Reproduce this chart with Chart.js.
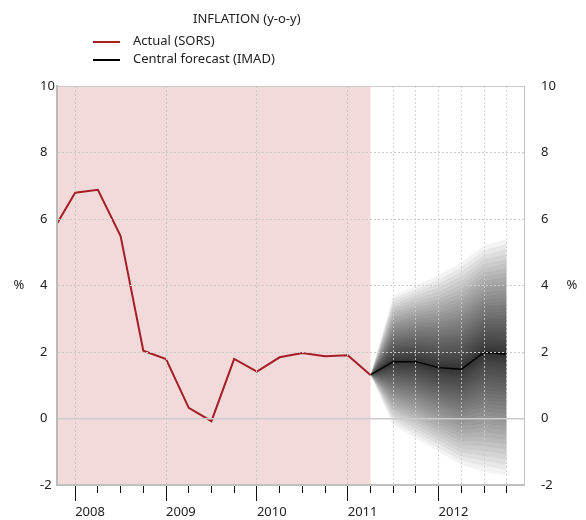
<!DOCTYPE html>
<html>
<head>
<meta charset="utf-8">
<script src="https://cdn.jsdelivr.net/npm/chart.js@4/dist/chart.umd.min.js"></script>
<style>
  body { margin: 0; background: #fff; font-family: "Noto Sans", sans-serif; color: #222; }
  .wrap { position: relative; width: 586px; height: 520px; }
  .title { position: absolute; left: 193px; top: 9px; font-size: 13px; line-height: 18px; }
  .legend { position: absolute; left: 93px; top: 31px; font-size: 13px; }
  .legend div { height: 18px; line-height: 18px; white-space: nowrap; }
  .swatch { display: inline-block; width: 27px; height: 2px; vertical-align: middle; margin-right: 13px; }
</style>
</head>
<body>
<div class="wrap">
  <canvas id="myChart"></canvas>
  <div class="title">INFLATION (y-o-y)</div>
  <div class="legend">
    <div><span class="swatch" style="background:#a51d25"></span>Actual (SORS)</div>
    <div><span class="swatch" style="background:#000"></span>Central forecast (IMAD)</div>
  </div>
</div>
<script>
// Actual inflation, quarterly (x in years)

const actualQuarters = [2007.75, 2008, 2008.25, 2008.5, 2008.75, 2009, 2009.25, 2009.5, 2009.75,
  2010, 2010.25, 2010.5, 2010.75, 2011, 2011.25];
const actual = [5.63, 6.79, 6.88, 5.49, 2.04, 1.79, 0.32, -0.08, 1.79,
  1.41, 1.84, 1.97, 1.87, 1.90, 1.31];

// Forecast with fan bounds (where the shading fades out)

const forecastQuarters = [2011.25, 2011.5, 2011.75, 2012, 2012.25, 2012.5, 2012.75];
const central = [1.31, 1.71, 1.71, 1.53, 1.48, 1.99, 1.93];
const fanUpper = [1.31, 3.7, 4.0, 4.3, 4.7, 5.2, 5.4];
const fanLower = [1.31, -0.2, -0.6, -1.0, -1.4, -1.6, -1.7];

// Axis ticks

const xTicks = [2008, 2008.25, 2008.5, 2008.75, 2009, 2009.25, 2009.5, 2009.75,
  2010, 2010.25, 2010.5, 2010.75, 2011, 2011.25, 2011.5, 2011.75,
  2012, 2012.25, 2012.5, 2012.75];
const yearTicks = [2008, 2009, 2010, 2011, 2012];
const yTicks = [-2, 0, 2, 4, 6, 8, 10];
const shadeEnd = 2011.25;
const unitLabelAt = 4;

// Build the fan: many thin nested bands give a smooth gradient

const BANDS = 40;
let fanSets = [];
for (let k = BANDS; k >= 1; k--) {
  let q = Math.pow(k / BANDS, 1.8);
  fanSets.push({
    data: forecastQuarters.map((x, i) => ({ x: x, y: central[i] + (fanUpper[i] - central[i]) * q })),
    fill: "+1",
    backgroundColor: "rgba(0,0,0,0.046)",
    borderWidth: 0,
    pointRadius: 0,
  });
  fanSets.push({
    data: forecastQuarters.map((x, i) => ({ x: x, y: central[i] - (central[i] - fanLower[i]) * q })),
    fill: false,
    borderWidth: 0,
    pointRadius: 0,
  });
}

// Pink history background and the "%" unit labels

const backdrop = {
  id: "backdrop",
  beforeDraw(chart) {
    const { ctx, chartArea: a, scales: { x } } = chart;
    ctx.save();
    ctx.fillStyle = "#f2dadb";
    ctx.fillRect(a.left, a.top, x.getPixelForValue(shadeEnd) - a.left, a.bottom - a.top);
    ctx.restore();
  },
  afterDraw(chart) {
    const { ctx, scales: { y } } = chart;
    let py = y.getPixelForValue(unitLabelAt);
    ctx.save();
    ctx.font = '13px "Noto Sans"';
    ctx.fillStyle = "#222";
    ctx.textAlign = "center";
    ctx.textBaseline = "middle";
    ctx.fillText("%", 19, py);
    ctx.fillText("%", 572, py);
    ctx.restore();
  },
};

const tickFont = { family: "Noto Sans", size: 13 };

new Chart("myChart", {
  type: "line",
  data: {
    datasets: [
      {
        data: actualQuarters.map((x, i) => ({ x: x, y: actual[i] })),
        borderColor: "#a51d25",
        borderWidth: 2,
        pointRadius: 0,
        fill: false,
      },
      {
        data: forecastQuarters.map((x, i) => ({ x: x, y: central[i] })),
        borderColor: "#000",
        borderWidth: 1.5,
        pointRadius: 0,
        fill: false,
      },
      ...fanSets,
    ],
  },
  options: {
    responsive: true,
    maintainAspectRatio: false,
    animation: false,
    layout: { padding: { left: 40, top: 86, right: 0, bottom: 0 } },
    plugins: { legend: { display: false }, tooltip: { enabled: false } },
    scales: {
      x: {
        type: "linear",
        min: 2007.8,
        max: 2012.94,
        afterBuildTicks: (s) => { s.ticks = xTicks.map((v) => ({ value: v })); },
        afterFit: (s) => { s.height = 35; },
        ticks: {
          callback: (v) => (yearTicks.includes(v) ? String(v) : ""),
          align: "start",
          padding: 3,
          maxRotation: 0,
          autoSkip: false,
          color: "#222",
          font: tickFont,
        },
        grid: {
          z: 1,
          color: (c) => {
            let v = c.tick.value;
            if (v > shadeEnd) return "rgba(205,205,205,0.8)";
            if (Number.isInteger(v)) return "#c8c8c8";
            return "rgba(0,0,0,0)";
          },
          tickColor: "#111",
          tickLength: 16,
          tickWidth: 1,
          tickBorderDash: (c) => (c.tick && Number.isInteger(c.tick.value) ? [] : [7, 30]),
        },
        border: {
          z: 1,
          color: "#c0c0c0",
          width: 2,
          dash: (c) => (c.tick ? [2, 2] : []),
        },
      },
      y: {
        position: "left",
        min: -2,
        max: 10,
        afterBuildTicks: (s) => { s.ticks = yTicks.map((v) => ({ value: v })); },
        afterFit: (s) => { s.width = 17; },
        ticks: { crossAlign: "far", padding: 0, color: "#222", font: tickFont },
        grid: {
          z: 1,
          drawTicks: false,
          color: (c) => (c.tick.value === -2 ? "rgba(0,0,0,0)" : "#cbcbcb"),
          lineWidth: (c) => (c.tick && c.tick.value === 0 ? 1.5 : 1),
        },
        border: {
          z: 1,
          color: "#bbb",
          width: 2,
          dash: (c) => (c.tick && c.tick.value !== 0 && c.tick.value !== 10 ? [2, 2] : []),
        },
      },
      y2: {
        position: "right",
        min: -2,
        max: 10,
        afterBuildTicks: (s) => { s.ticks = yTicks.map((v) => ({ value: v })); },
        afterFit: (s) => { s.width = 62; },
        ticks: { padding: 17, color: "#222", font: tickFont },
        grid: { drawOnChartArea: false, drawTicks: false },
        border: { z: 1, color: "#c4c4c4", width: 1 },
      },
    },
  },
  plugins: [backdrop],
});
</script>
</body>
</html>
